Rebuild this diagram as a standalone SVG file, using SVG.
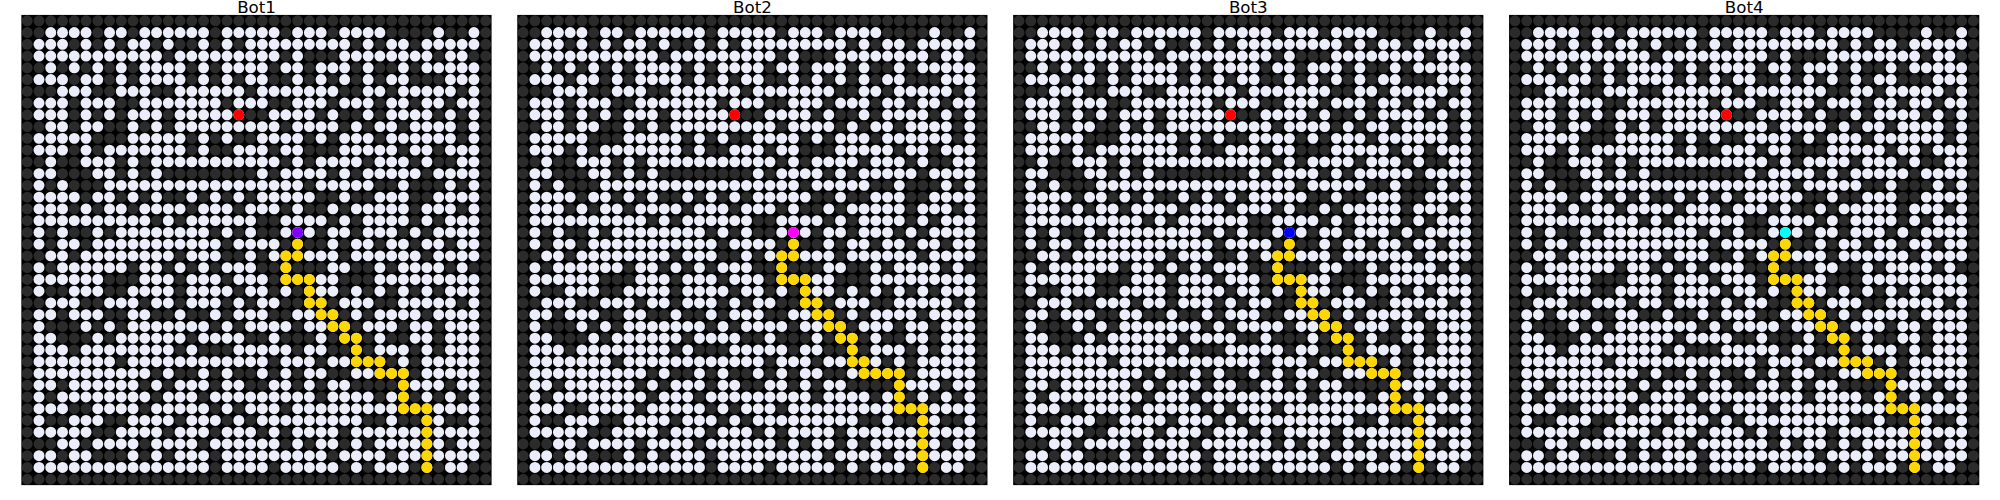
<svg xmlns="http://www.w3.org/2000/svg" width="2000" height="500" viewBox="0 0 2000 500">
<style>
.bg{fill:#000}
.dots{fill:none;stroke-width:.93;stroke-linecap:round;stroke-dasharray:0 1}
.dk{stroke:#2b2b2b}
.wt{stroke:#ebeefa}
.yl{stroke:#ffd700}
.goal{stroke:#ff0000}
.title{font-family:"DejaVu Sans",sans-serif;font-size:16.67px;fill:#000;text-anchor:middle}
</style>
<defs>
<g id="maze">
<rect class="bg" x="-0.5" y="-0.5" width="40" height="40"/>
<path class="dots dk" d="M0 0H39.1M0 1H39.1M0 2H39.1M0 3H39.1M0 4H39.1M0 5H39.1M0 6H39.1M0 7H39.1M0 8H39.1M0 9H39.1M0 10H39.1M0 11H39.1M0 12H39.1M0 13H39.1M0 14H39.1M0 15H39.1M0 16H39.1M0 17H39.1M0 18H39.1M0 19H39.1M0 20H39.1M0 21H39.1M0 22H39.1M0 23H39.1M0 24H39.1M0 25H39.1M0 26H39.1M0 27H39.1M0 28H39.1M0 29H39.1M0 30H39.1M0 31H39.1M0 32H39.1M0 33H39.1M0 34H39.1M0 35H39.1M0 36H39.1M0 37H39.1M0 38H39.1M0 39H39.1"/>
<path class="dots wt" d="M2 1H5.1M7 1H8.1M10 1H15.1M17 1H21.1M23 1H25.1M27 1H30.1M35 1H35.1M38 1H38.1
M1 2H3.1M5 2H5.1M7 2H7.1M9 2H10.1M12 2H12.1M15 2H15.1M17 2H17.1M19 2H27.1M29 2H29.1M31 2H32.1M34 2H38.1
M1 3H11.1M13 3H21.1M23 3H23.1M27 3H34.1M36 3H37.1
M2 4H2.1M4 4H4.1M6 4H6.1M8 4H8.1M10 4H13.1M15 4H15.1M17 4H20.1M22 4H23.1M25 4H27.1M29 4H29.1M32 4H32.1M34 4H38.1
M1 5H3.1M5 5H6.1M8 5H8.1M10 5H13.1M15 5H15.1M17 5H17.1M19 5H20.1M23 5H23.1M25 5H25.1M27 5H27.1M29 5H29.1M31 5H32.1M36 5H38.1
M3 6H5.1M8 6H10.1M13 6H18.1M20 6H26.1M29 6H30.1M32 6H36.1M38 6H38.1
M1 7H3.1M5 7H7.1M10 7H16.1M18 7H20.1M23 7H25.1M27 7H29.1M31 7H32.1M34 7H35.1M37 7H38.1
M1 8H3.1M5 8H5.1M7 8H7.1M9 8H11.1M13 8H18.1M21 8H24.1M26 8H26.1M29 8H29.1M31 8H34.1M36 8H36.1M38 8H38.1
M2 9H3.1M5 9H6.1M9 9H9.1M11 9H11.1M13 9H21.1M23 9H26.1M28 9H28.1M30 9H31.1M33 9H36.1M38 9H38.1
M1 10H5.1M9 10H13.1M15 10H15.1M17 10H17.1M20 10H23.1M25 10H25.1M27 10H29.1M31 10H36.1M38 10H38.1
M1 11H3.1M5 11H5.1M7 11H13.1M15 11H15.1M18 11H20.1M22 11H23.1M27 11H31.1M33 11H34.1M36 11H38.1
M2 12H2.1M5 12H7.1M9 12H9.1M11 12H21.1M23 12H23.1M25 12H28.1M30 12H32.1M34 12H34.1M37 12H38.1
M1 13H2.1M6 13H7.1M9 13H9.1M11 13H11.1M20 13H20.1M22 13H25.1M27 13H27.1M29 13H33.1M35 13H38.1
M1 14H1.1M3 14H3.1M7 14H23.1M25 14H29.1M32 14H32.1M36 14H36.1M38 14H38.1
M1 15H4.1M6 15H7.1M9 15H9.1M11 15H11.1M14 15H14.1M16 15H16.1M18 15H18.1M20 15H24.1M27 15H27.1M30 15H32.1M35 15H38.1
M1 16H3.1M5 16H5.1M7 16H8.1M10 16H13.1M15 16H17.1M19 16H21.1M23 16H23.1M26 16H26.1M28 16H32.1M34 16H36.1M38 16H38.1
M1 17H10.1M12 17H12.1M14 17H19.1M22 17H25.1M27 17H27.1M29 17H32.1M34 17H34.1M36 17H38.1
M1 18H1.1M3 18H3.1M6 18H6.1M8 18H15.1M17 18H17.1M19 18H19.1M22 18H24.1M26 18H27.1M29 18H31.1M33 18H33.1M35 18H38.1
M1 19H1.1M3 19H4.1M6 19H16.1M18 19H21.1M23 19H23.1M26 19H26.1M28 19H29.1M31 19H32.1M34 19H35.1M37 19H38.1
M2 20H3.1M5 20H12.1M14 20H16.1M19 20H19.1M21 20H26.1M28 20H33.1M35 20H38.1
M1 21H1.1M3 21H8.1M10 21H11.1M13 21H13.1M15 21H15.1M17 21H19.1M22 21H22.1M26 21H27.1M30 21H30.1M32 21H35.1M37 21H37.1
M1 22H6.1M10 22H12.1M14 22H16.1M18 22H20.1M22 22H26.1M30 22H38.1
M1 23H1.1M4 23H6.1M9 23H12.1M14 23H17.1M19 23H20.1M22 23H22.1M24 23H26.1M28 23H28.1M30 23H30.1M32 23H32.1M34 23H34.1M36 23H38.1
M2 24H4.1M7 24H9.1M11 24H12.1M14 24H16.1M18 24H18.1M20 24H21.1M24 24H25.1M27 24H29.1M32 24H36.1M38 24H38.1
M1 25H2.1M4 25H6.1M9 25H10.1M13 25H13.1M16 25H16.1M18 25H20.1M23 25H26.1M28 25H28.1M30 25H33.1M35 25H38.1
M1 26H1.1M5 26H5.1M7 26H7.1M9 26H15.1M17 26H17.1M19 26H22.1M24 26H27.1M29 26H31.1M33 26H34.1M36 26H38.1
M1 27H2.1M6 27H6.1M8 27H13.1M15 27H18.1M21 27H21.1M25 27H25.1M27 27H28.1M30 27H30.1M33 27H34.1M36 27H38.1
M1 28H3.1M5 28H12.1M14 28H14.1M18 28H22.1M24 28H25.1M28 28H28.1M30 28H32.1M34 28H34.1M36 28H38.1
M1 29H7.1M9 29H20.1M22 29H24.1M26 29H30.1M32 29H32.1M34 29H38.1
M1 30H10.1M12 30H12.1M15 30H15.1M17 30H17.1M20 30H20.1M22 30H22.1M24 30H25.1M28 30H32.1M34 30H38.1
M1 31H2.1M4 31H9.1M11 31H11.1M13 31H15.1M17 31H18.1M21 31H22.1M24 31H24.1M26 31H27.1M32 31H35.1M37 31H38.1
M1 32H1.1M3 32H10.1M12 32H14.1M16 32H24.1M26 32H29.1M31 32H32.1M34 32H34.1M36 32H36.1M38 32H38.1
M1 33H3.1M6 33H9.1M11 33H15.1M17 33H17.1M19 33H21.1M23 33H38.1
M1 34H1.1M4 34H6.1M9 34H12.1M14 34H16.1M18 34H18.1M20 34H28.1M31 34H31.1M34 34H35.1M38 34H38.1
M1 35H5.1M8 35H11.1M13 35H15.1M17 35H19.1M21 35H21.1M23 35H26.1M28 35H38.1
M3 36H4.1M6 36H9.1M11 36H14.1M16 36H21.1M23 36H23.1M25 36H26.1M28 36H28.1M30 36H35.1M37 36H38.1
M1 37H2.1M4 37H5.1M9 37H9.1M11 37H11.1M13 37H15.1M17 37H25.1M27 37H30.1M32 37H38.1
M1 38H15.1M17 38H20.1M22 38H26.1M28 38H28.1M30 38H32.1M34 38H34.1M36 38H37.1"/>
<path class="dots goal" d="M18 8H18.1"/>
</g>
<path id="trail" class="dots yl" d="M23 19H23.1M22 20H23.1M22 21H22.1M22 22H24.1M24 23H24.1M24 24H25.1M25 25H26.1M26 26H27.1M27 27H28.1M28 28H28.1M28 29H29.1M30 30H32.1M32 31V32.1M32 33H34.1M34 34V38.1"/>
</defs>
<g id="bot1">
<text class="title" x="256.5" y="13">Bot1</text>
<g transform="translate(27.25 20.8) scale(11.755)">
<use href="#maze"/>
<use href="#trail"/>
<path class="dots yl" d="M30 29H30.1"/>
<path class="dots" stroke="#7f00ff" d="M23 18H23.1"/>
</g>
</g>
<g id="bot2">
<text class="title" x="752.4" y="13">Bot2</text>
<g transform="translate(523.15 20.8) scale(11.755)">
<use href="#maze"/>
<use href="#trail"/>
<path class="dots yl" d="M29 30H29.1"/>
<path class="dots" stroke="#ff00ff" d="M23 18H23.1"/>
</g>
</g>
<g id="bot3">
<text class="title" x="1248.3" y="13">Bot3</text>
<g transform="translate(1019.05 20.8) scale(11.755)">
<use href="#maze"/>
<use href="#trail"/>
<path class="dots yl" d="M30 29H30.1"/>
<path class="dots" stroke="#0000ff" d="M23 18H23.1"/>
</g>
</g>
<g id="bot4">
<text class="title" x="1744.2" y="13">Bot4</text>
<g transform="translate(1514.95 20.8) scale(11.755)">
<use href="#maze"/>
<use href="#trail"/>
<path class="dots yl" d="M30 29H30.1"/>
<path class="dots" stroke="#00ffff" d="M23 18H23.1"/>
</g>
</g>
</svg>
